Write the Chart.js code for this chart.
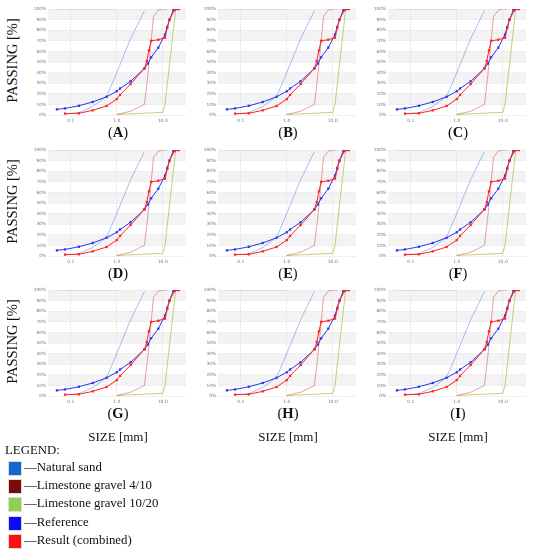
<!DOCTYPE html>
<html>
<head>
<meta charset="utf-8">
<script src="https://cdn.jsdelivr.net/npm/chart.js@4.4.1/dist/chart.umd.min.js"></script>
<style>
  body { margin:0; width:545px; height:550px; position:relative; background:#fff; overflow:hidden;
         font-family:"Liberation Serif","DejaVu Serif",serif; color:#111; }
  .box { position:absolute; width:160px; height:125px; }
  .ylab { position:absolute; width:100px; text-align:center; font-size:14.5px; transform:rotate(-90deg); white-space:nowrap; }
  .letter { position:absolute; width:60px; text-align:center; font-size:14.5px; }
  .size { position:absolute; width:120px; text-align:center; font-size:13px; }
  .leg { position:absolute; left:25px; font-size:12.8px; white-space:nowrap; }
  .sw { position:absolute; left:8px; width:14px; height:15px; border:1px solid #ddd; box-sizing:border-box; }
</style>
</head>
<body>
<script>
// panels and axes
var panelLetters = ['A', 'B', 'C', 'D', 'E', 'F', 'G', 'H', 'I'];
var xTickValues = [0.1, 1, 10];

// natural sand
var sandSize = [0.075, 0.15, 0.3, 0.6, 1.0, 2.0, 4.0];
var sandPass = [1.0, 2.2, 8.0, 17.5, 40.0, 72.0, 98.5];

// limestone gravel 4/10
var lime410Size = [1.0, 2.0, 4.0, 4.75, 6.3, 8.0, 10.0, 12.5];
var lime410Pass = [0.5, 3.5, 10.0, 38.0, 93.0, 99.0, 100, 100];

// limestone gravel 10/20
var lime1020Size = [1.0, 10.0, 11.2, 19.0, 22.4];
var lime1020Pass = [0.5, 2.5, 10.0, 99.0, 100];
var lime1020TopSize = [0.05, 1.0];
var lime1020TopPass = [100, 100];

// reference curve
var refSize = [0.05, 0.075, 0.15, 0.3, 0.6, 1.0, 1.18, 2.0, 4.0, 4.75, 5.6, 8.0, 11.2, 12.5, 14.0, 17.0, 22.4];
var refPass = [5.3, 6.2, 8.7, 12.3, 17.2, 22.4, 25.0, 31.8, 44.0, 48.5, 54.5, 63.5, 76.0, 83.0, 90.0, 99.0, 100];

// result (combined)
var resSize = [0.075, 0.15, 0.3, 0.6, 1.0, 1.18, 2.0, 4.0, 4.5, 5.0, 5.6, 8.0, 11.2, 12.5, 14.0, 18.0, 22.4];
var resPass = [1.3, 1.6, 4.4, 8.5, 15.0, 19.0, 29.2, 44.0, 51.0, 61.0, 70.0, 71.0, 73.0, 82.0, 90.0, 99.0, 100];

// legend
var legendNames = ['Natural sand', 'Limestone gravel 4/10', 'Limestone gravel 10/20', 'Reference', 'Result (combined)'];
var legendColors = ['#1566d0', '#7a0a0a', '#8fcf4f', '#0a0aff', '#ff1010'];

var rowTop = [0, 141, 281];

function pts(sizes, pass) {
  var out = [];
  for (var i = 0; i < sizes.length; i++) out.push({x: sizes[i], y: pass[i]});
  return out;
}

// grey stripes every other 10 %
var bands = {
  id: 'bands',
  beforeDraw: function(chart) {
    var c = chart.ctx, a = chart.chartArea, y = chart.scales.y;
    c.save();
    c.fillStyle = '#f3f3f3';
    for (var v = 10; v < 100; v += 20) {
      var t = y.getPixelForValue(v + 10), b = y.getPixelForValue(v);
      c.fillRect(a.left, t, a.right - a.left, b - t);
    }
    c.restore();
  }
};

function line(data, color, width, marks) {
  return {
    data: data, borderColor: color, backgroundColor: color, borderWidth: width,
    pointRadius: marks ? 1.6 : 0, pointStyle: 'rect', pointBorderWidth: 0,
    tension: 0, fill: false
  };
}

function addText(cls, txt, x, y, html) {
  var d = document.createElement('div');
  d.className = cls;
  if (html) d.innerHTML = txt; else d.textContent = txt;
  d.style.left = x + 'px';
  d.style.top = y + 'px';
  document.body.appendChild(d);
  return d;
}

for (var p = 0; p < 9; p++) {
  var col = p % 3, row = Math.floor(p / 3);
  var bx = 30 + col * 170, by = rowTop[row];

  var box = document.createElement('div');
  box.className = 'box';
  box.style.left = bx + 'px';
  box.style.top = by + 'px';
  var cv = document.createElement('canvas');
  box.appendChild(cv);
  document.body.appendChild(box);

  addText('letter', '(<b>' + panelLetters[p] + '</b>)', bx + 58, by + 124, true);
  if (col == 0) addText('ylab', 'PASSING [%]', -38, by + 52);
  if (row == 2) addText('size', 'SIZE [mm]', bx + 28, 429);

  new Chart(cv, {
    type: 'line',
    data: {
      datasets: [
        line(pts(resSize, resPass), '#ff2222', 1, true),
        line(pts(refSize, refPass), '#2a35f0', 1, true),
        line(pts(sandSize, sandPass), 'rgba(90,140,225,0.55)', 1, false),
        line(pts(lime410Size, lime410Pass), 'rgba(205,70,70,0.5)', 1, false),
        line(pts(lime1020Size, lime1020Pass), 'rgba(175,195,70,0.75)', 1, false),
        line(pts(lime1020TopSize, lime1020TopPass), 'rgba(175,195,70,0.5)', 1, false)
      ]
    },
    options: {
      responsive: true,
      maintainAspectRatio: false,
      animation: false,
      layout: {padding: {top: 9, right: 2, bottom: 0, left: 0}},
      plugins: {legend: {display: false}, tooltip: {enabled: false}},
      scales: {
        x: {
          type: 'logarithmic', min: 0.032, max: 32,
          afterBuildTicks: function(s) { s.ticks = xTickValues.map(function(v) { return {value: v}; }); },
          afterFit: function(s) { s.height = 10; },
          grid: {color: '#e2e2e2', lineWidth: 0.6, drawTicks: false},
          border: {display: false},
          ticks: {padding: 3, color: '#777', font: {size: 4.5, family: 'DejaVu Sans'}, maxRotation: 0,
                  callback: function(v) { return Number(v).toFixed(1); }}
        },
        y: {
          min: 0, max: 100,
          afterFit: function(s) { s.width = 18; },
          grid: {color: '#e6e6e6', lineWidth: 0.6, drawTicks: false},
          border: {display: false},
          ticks: {stepSize: 10, padding: 2, color: '#777', font: {size: 4.3, family: 'DejaVu Sans'},
                  callback: function(v) { return v + '%'; }}
        }
      }
    },
    plugins: [bands]
  });
}

addText('leg', 'LEGEND:', 5, 443);
for (var i = 0; i < legendNames.length; i++) {
  var sw = document.createElement('div');
  sw.className = 'sw';
  sw.style.top = (461 + i * 18.2) + 'px';
  sw.style.background = legendColors[i];
  document.body.appendChild(sw);
  addText('leg', '\u2014' + legendNames[i], 24, 460 + i * 18.2);
}
</script>
</body>
</html>
